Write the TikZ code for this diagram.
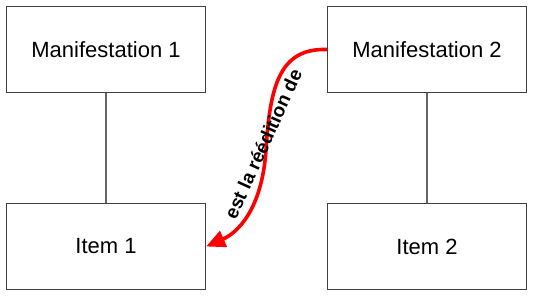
\documentclass[tikz,border=0pt]{standalone}
\usepackage{fontspec}
\setmainfont{Liberation Sans}
\usetikzlibrary{arrows.meta}
\begin{document}
\begin{tikzpicture}[x=1pt,y=-1pt,
  entity/.style={draw=black!75,line width=1.3pt,fill=white,minimum width=199pt,minimum height=86pt,inner sep=0pt,font=\fontsize{22}{26}\selectfont},
  link/.style={draw=black!60,line width=1.2pt},
  rel/.style={draw=red,line width=3.6pt,-{Triangle[length=19pt,width=17pt]}},
  rellabel/.style={font=\bfseries\fontsize{19}{22}\selectfont,rotate=65.6,inner sep=0pt}]
\useasboundingbox (0,0) rectangle (538,295);
\node[entity] (m1) at (106,49.5) {Manifestation 1};
\node[entity] (m2) at (427,49.5) {Manifestation 2};
\node[entity] (i1) at (106,246.5) {Item 1};
\node[entity] (i2) at (427,246.5) {Item 2};
\draw[link] (m1.south) -- (i1.north);
\draw[link] (m2.south) -- (i2.north);
\coordinate (mid) at (266,150);
\draw[rel] (m2.west) .. controls (280,48) and (270,85) .. (mid) .. controls (262,210) and (237,233) .. (i1.east);
\node[rellabel] (lab) at (263,144) {est la réédition de};
\end{tikzpicture}
\end{document}
